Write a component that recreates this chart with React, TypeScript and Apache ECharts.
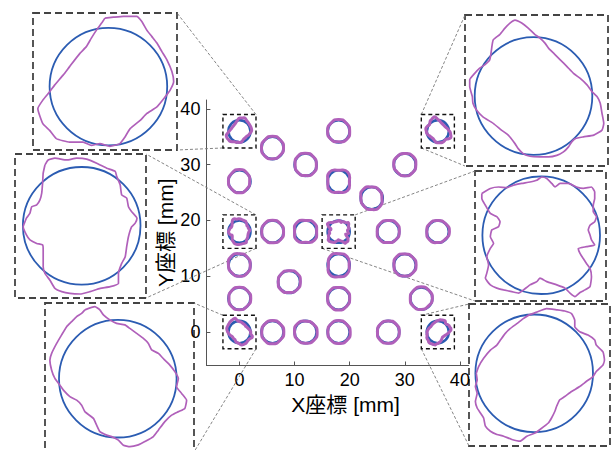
import React, { useEffect, useRef } from "react";
import * as echarts from "echarts";

// ---------- data ----------
const xTicks = [0, 10, 20, 30, 40];
const yTicks = [0, 10, 20, 30, 40];

// hole centres [mm]
const holeX = [0, 18, 36, 6, 12, 30, 0, 18, 24, 0, 6, 12, 18, 27, 36, 0, 18, 30, 9, 0, 18, 33, 0, 6, 12, 18, 27, 36];
const holeY = [36, 36, 36, 33, 30, 30, 27, 27, 24, 18, 18, 18, 18, 18, 18, 12, 12, 12, 9, 6, 6, 6, 0, 0, 0, 0, 0, 0];
const holeRadius = 2; // design radius [mm]

// holes that are magnified in the insets (TL, TR, LM, RM, BL, BR)
const zoomedHoles = [0, 2, 9, 12, 22, 27];
const zoomHalf = 3; // half size of the small dashed boxes [mm]

// measured radius [mm] of non-magnified holes at E, NE, N, NW, W, SW, S, SE
const measuredRadii: (number[] | null)[] = [
  null,
  [2.0, 2.0, 2.1, 2.0, 2.0, 2.0, 1.9, 2.05],
  null,
  [2.0, 2.0, 2.1, 2.0, 2.0, 2.0, 1.95, 1.9],
  [1.95, 2.0, 2.05, 2.05, 1.9, 1.95, 1.95, 2.05],
  [2.0, 2.1, 2.0, 2.0, 2.0, 1.9, 2.0, 2.0],
  [1.85, 2.0, 2.15, 2.0, 2.0, 1.95, 2.05, 1.9],
  [1.95, 2.35, 2.0, 2.35, 1.95, 2.3, 1.95, 2.3],
  [1.85, 1.95, 2.0, 2.2, 1.95, 2.0, 2.05, 2.1],
  null,
  [2.0, 2.0, 2.05, 2.0, 1.95, 2.0, 2.0, 2.05],
  [2.0, 2.2, 2.0, 2.25, 2.0, 2.2, 1.9, 2.2],
  null,
  [2.0, 2.1, 2.0, 2.05, 2.0, 2.1, 1.95, 2.0],
  [2.1, 2.0, 2.0, 2.05, 2.0, 2.1, 1.95, 1.9],
  [1.95, 2.0, 2.05, 2.15, 2.0, 1.95, 2.0, 2.0],
  [1.9, 2.15, 2.05, 2.2, 1.85, 2.3, 2.1, 2.2],
  [2.05, 2.0, 2.0, 2.1, 1.95, 2.05, 1.95, 2.0],
  [2.05, 2.1, 2.0, 2.0, 1.95, 2.05, 1.9, 2.0],
  [2.05, 2.0, 2.05, 2.0, 1.9, 2.0, 2.0, 1.95],
  [2.0, 2.05, 2.0, 2.1, 2.0, 2.0, 2.05, 2.0],
  [2.0, 2.0, 2.1, 2.0, 2.0, 2.0, 1.95, 1.85],
  null,
  [2.05, 2.0, 2.05, 2.0, 1.95, 2.05, 2.1, 2.0],
  [2.1, 2.0, 1.95, 2.1, 2.0, 2.0, 2.0, 2.1],
  [2.1, 2.0, 2.05, 2.0, 1.95, 2.0, 2.05, 2.1],
  [2.0, 2.0, 2.0, 2.0, 1.95, 2.05, 2.0, 2.0],
  null,
];

// measured contours of magnified holes, relative to hole centre [mm]
const contourTL = [
  [-0.12, 2.33], [0.17, 2.36], [0.51, 2.39], [0.96, 2.39], [1.13, 2.22], [1.3, 1.93], [1.48, 1.7], [1.65, 1.48],
  [1.82, 1.19], [1.99, 0.91], [2.16, 0.51], [2.22, 0.17], [2.1, -0.12], [1.93, -0.35], [1.65, -0.69], [1.3, -0.92],
  [1.08, -1.15], [0.74, -1.43], [0.56, -1.72], [0.39, -1.94], [0.05, -2.03], [-0.29, -1.94], [-0.58, -2.0],
  [-0.86, -1.89], [-1.32, -1.89], [-1.77, -1.77], [-2.0, -1.49], [-2.23, -1.26], [-2.4, -0.75], [-2.23, -0.46],
  [-2.0, -0.18], [-1.83, 0.05], [-1.54, 0.39], [-1.32, 0.68], [-0.97, 1.13], [-0.75, 1.36], [-0.58, 1.65],
  [-0.4, 1.93], [-0.23, 2.16],
];
const contourTR = [
  [-1.43, 1.57], [-1.37, 1.91], [-1.15, 2.09], [-0.97, 2.31], [-0.8, 2.48], [-0.63, 2.58], [-0.4, 2.48], [-0.18, 2.31],
  [0.05, 2.09], [0.22, 1.97], [0.39, 1.8], [0.51, 1.63], [0.74, 1.4], [0.91, 1.23], [1.14, 1.0], [1.36, 0.77],
  [1.59, 0.6], [1.82, 0.38], [1.99, 0.15], [2.16, -0.02], [2.27, -0.25], [2.33, -0.59], [2.39, -0.93], [2.33, -1.16],
  [2.05, -1.33], [1.7, -1.39], [1.42, -1.45], [1.3, -1.56], [1.19, -1.73], [1.02, -1.9], [0.79, -2.02], [0.51, -2.07],
  [0.22, -2.07], [-0.12, -2.05], [-0.35, -1.96], [-0.52, -1.79], [-0.63, -1.62], [-0.86, -1.33], [-1.09, -1.16],
  [-1.37, -0.93], [-1.72, -0.71], [-1.94, -0.48], [-2.06, -0.25], [-2.08, -0.02], [-2.17, 0.32], [-2.17, 0.55],
  [-2.0, 0.77], [-1.83, 0.95], [-1.66, 1.06], [-1.49, 1.23],
];
const contourLM = [
  [-1.25, 2.07], [-1.14, 2.24], [-0.91, 2.3], [-0.51, 2.24], [-0.17, 2.3], [0.17, 2.27], [0.51, 2.13], [0.85, 1.96],
  [1.14, 1.85], [1.19, 1.68], [1.31, 1.39], [1.36, 1.05], [1.53, 0.94], [1.59, 0.65], [1.7, 0.48], [1.88, 0.26],
  [1.82, 0.09], [1.7, -0.03], [1.59, -0.37], [1.53, -0.71], [1.48, -1.05], [1.36, -1.28], [1.25, -1.62],
  [1.25, -1.96], [0.97, -2.07], [0.63, -2.13], [0.28, -2.24], [-0.06, -2.32], [-0.4, -2.3], [-0.68, -2.24],
  [-0.91, -2.13], [-1.08, -1.85], [-1.25, -1.62], [-1.31, -1.39], [-1.31, -1.05], [-1.31, -0.82], [-1.33, -0.65],
  [-1.53, -0.6], [-1.76, -0.48], [-1.88, -0.31], [-1.99, -0.03], [-1.93, 0.14], [-1.88, 0.26], [-1.76, 0.43],
  [-1.7, 0.65], [-1.53, 0.71], [-1.42, 0.88], [-1.36, 1.11], [-1.33, 1.45], [-1.31, 1.79],
];
const contourRM = [
  [-2.02, 1.42], [-1.73, 1.59], [-1.45, 1.64], [-1.17, 1.62], [-0.94, 1.7], [-0.66, 1.76], [-0.38, 1.81],
  [-0.15, 1.87], [0.02, 1.98], [0.19, 1.93], [0.36, 1.76], [0.47, 1.64], [0.64, 1.76], [0.92, 1.76], [1.2, 1.64],
  [1.43, 1.59], [1.71, 1.64], [1.82, 1.47], [1.82, 1.25], [1.77, 1.02], [1.77, 0.8], [1.88, 0.63], [1.82, 0.46],
  [1.66, 0.34], [1.6, 0.18], [1.66, 0.01], [1.71, -0.16], [1.82, -0.33], [1.54, -0.39], [1.26, -0.45], [1.32, -0.62],
  [1.43, -0.79], [1.54, -0.96], [1.66, -1.13], [1.71, -1.41], [1.66, -1.75], [1.49, -1.86], [1.32, -1.95],
  [1.15, -2.09], [0.98, -1.97], [0.81, -1.8], [0.53, -1.69], [0.19, -1.58], [-0.04, -1.46], [-0.15, -1.58],
  [-0.38, -1.69], [-0.6, -1.86], [-0.77, -1.97], [-1.0, -1.92], [-1.28, -1.86], [-1.51, -1.8], [-1.73, -1.69],
  [-1.9, -1.46], [-1.85, -1.29], [-1.79, -1.01], [-1.85, -0.73], [-1.73, -0.45], [-1.62, -0.28], [-1.73, -0.05],
  [-1.68, 0.18], [-1.45, 0.29], [-1.4, 0.46], [-1.51, 0.63], [-1.73, 0.74], [-1.9, 1.02], [-2.02, 1.25],
];
const contourBL = [
  [-1.12, 2.34], [-0.78, 2.45], [-0.61, 2.34], [-0.49, 2.17], [-0.27, 2.0], [-0.04, 1.88], [0.24, 1.83],
  [0.41, 1.71], [0.64, 1.54], [0.87, 1.37], [1.04, 1.2], [1.15, 0.98], [1.38, 0.86], [1.6, 0.63], [1.77, 0.46],
  [1.94, 0.24], [2.06, 0.01], [2.0, -0.27], [2.17, -0.5], [2.34, -0.73], [2.28, -1.01], [2.06, -1.12], [1.83, -1.24],
  [1.6, -1.46], [1.38, -1.75], [1.21, -1.97], [0.92, -2.14], [0.7, -2.25], [0.41, -2.31], [0.19, -2.26],
  [0.02, -2.09], [-0.21, -1.97], [-0.38, -1.92], [-0.61, -1.8], [-0.72, -1.58], [-0.83, -1.35], [-1.12, -1.12],
  [-1.23, -0.9], [-1.4, -0.73], [-1.63, -0.61], [-1.85, -0.39], [-1.97, -0.22], [-2.14, 0.01], [-2.25, 0.29],
  [-2.31, 0.63], [-2.25, 0.86], [-2.08, 1.2], [-1.91, 1.49], [-1.74, 1.77], [-1.57, 1.94], [-1.4, 2.11], [-1.23, 2.22],
];
const contourBR = [
  [-1.97, 0.0], [-1.89, 0.23], [-1.72, 0.51], [-1.49, 0.79], [-1.27, 0.96], [-1.15, 1.13], [-0.99, 1.35],
  [-0.82, 1.52], [-0.59, 1.69], [-0.37, 1.86], [-0.2, 1.97], [0.08, 2.08], [0.42, 2.2], [0.76, 2.16], [1.04, 2.12],
  [1.27, 2.03], [1.38, 1.8], [1.38, 1.58], [1.55, 1.41], [1.83, 1.3], [2.06, 1.13], [2.11, 0.96], [2.34, 0.73],
  [2.39, 0.45], [2.34, 0.28], [2.11, 0.06], [2.0, -0.11], [1.77, -0.28], [1.55, -0.45], [1.27, -0.62], [1.04, -0.79],
  [0.87, -0.9], [0.76, -1.13], [0.7, -1.3], [0.59, -1.52], [0.48, -1.69], [0.2, -1.91], [0.03, -2.03], [-0.25, -2.14],
  [-0.48, -2.31], [-0.76, -2.25], [-1.04, -2.14], [-1.27, -2.08], [-1.49, -1.97], [-1.66, -1.8], [-1.72, -1.52],
  [-1.83, -1.35], [-1.94, -1.18], [-2.0, -0.96], [-1.94, -0.68], [-2.0, -0.45], [-1.94, -0.23],
];
const insetContours = [contourTL, contourTR, contourLM, contourRM, contourBL, contourBR];

// ---------- layout / style ----------
const FONT = '"Liberation Sans", Arial, "Noto Sans CJK JP", sans-serif';
const BLUE = "#2b5cb2";
const MAGENTA = "#b060ba";
const INSET_SCALE = 29.4; // px per mm inside insets
type Corner = "tl" | "tr" | "bl" | "br";
const INSETS: { box: number[]; c: number[]; links: [Corner, Corner][] }[] = [
  { box: [33, 13, 177, 150], c: [108.4, 86.6], links: [["tr", "tr"], ["bl", "br"]] },
  { box: [465, 15, 608, 166], c: [533.5, 96], links: [["tl", "tl"], ["bl", "bl"]] },
  { box: [15, 154, 146, 298], c: [81.7, 225.8], links: [["tr", "tr"], ["br", "br"]] },
  { box: [475, 171, 606, 301], c: [541.2, 235.2], links: [["tr", "tl"], ["bl", "bl"]] },
  { box: [45, 303, 194, 452], c: [117.8, 378.7], links: [["tl", "tr"], ["br", "br"]] },
  { box: [469, 304, 610, 446], c: [534.2, 373.3], links: [["tl", "tl"], ["bl", "bl"]] },
];

function holeContour(i: number): number[][] {
  const z = zoomedHoles.indexOf(i);
  if (z >= 0) return insetContours[z];
  const r = measuredRadii[i] as number[];
  return r.map((v, k) => [v * Math.cos((k * Math.PI) / 4), v * Math.sin((k * Math.PI) / 4)]);
}

function buildOption() {
  const grids: any[] = [
    { left: 206.4, top: 100, width: 262.3, height: 265.5, containLabel: false, outerBoundsMode: "none" },
  ];
  const xAxes: any[] = [
    {
      type: "value", gridIndex: 0, min: -6, max: 41.6,
      axisLine: { show: true, onZero: false, lineStyle: { color: "#555", width: 1 } },
      axisTick: { show: true, inside: true, length: 4, customValues: xTicks, lineStyle: { color: "#555" } },
      axisLabel: { customValues: xTicks, color: "#000", fontSize: 18, fontFamily: FONT, margin: 5 },
      splitLine: { show: false },
      name: "X座標 [mm]", nameLocation: "middle", nameGap: 28,
      nameTextStyle: { fontSize: 21, color: "#000", fontFamily: FONT, padding: [0, 0, 0, 16] },
    },
  ];
  const yAxes: any[] = [
    {
      type: "value", gridIndex: 0, min: -6, max: 41.6,
      axisLine: { show: true, onZero: false, lineStyle: { color: "#555", width: 1 } },
      axisTick: { show: true, inside: true, length: 4, customValues: yTicks, lineStyle: { color: "#555" } },
      axisLabel: { customValues: yTicks, color: "#000", fontSize: 18, fontFamily: FONT, margin: 6 },
      splitLine: { show: false },
      name: "Y座標 [mm]", nameLocation: "middle", nameGap: 29,
      nameTextStyle: { fontSize: 21, color: "#000", fontFamily: FONT },
    },
  ];
  const holeData = holeX.map((x, i) => [x, holeY[i], i]);
  const series: any[] = [
    {
      type: "custom", xAxisIndex: 0, yAxisIndex: 0, clip: false, silent: true, z: 2,
      data: holeData, encode: { x: 0, y: 1 },
      renderItem: (_p: any, api: any) => {
        const c = api.coord([api.value(0), api.value(1)]);
        const s = api.size([holeRadius, holeRadius]);
        return { type: "ellipse", shape: { cx: c[0], cy: c[1], rx: s[0], ry: s[1] }, style: { fill: "none", stroke: BLUE, lineWidth: 2.6 } };
      },
    },
    {
      type: "custom", xAxisIndex: 0, yAxisIndex: 0, clip: false, silent: true, z: 3,
      data: holeData, encode: { x: 0, y: 1 },
      renderItem: (_p: any, api: any) => {
        const cx = api.value(0), cy = api.value(1), i = api.value(2);
        const cont = holeContour(i);
        const pts = cont.map(([dx, dy]) => api.coord([cx + dx, cy + dy]));
        return {
          type: "polygon",
          shape: { points: pts, smooth: cont.length > 8 ? 0.2 : 0.6 },
          style: { fill: "none", stroke: MAGENTA, lineWidth: 3, lineJoin: "round" },
        };
      },
    },
    {
      type: "custom", xAxisIndex: 0, yAxisIndex: 0, clip: false, silent: true, z: 4,
      data: zoomedHoles.map((i) => [holeX[i], holeY[i]]), encode: { x: 0, y: 1 },
      renderItem: (_p: any, api: any) => {
        const tl = api.coord([api.value(0) - zoomHalf, api.value(1) + zoomHalf]);
        const s = api.size([2 * zoomHalf, 2 * zoomHalf]);
        return {
          type: "rect", shape: { x: tl[0], y: tl[1], width: s[0], height: s[1] },
          style: { fill: "none", stroke: "#111", lineWidth: 1.4, lineDash: [4, 3] },
        };
      },
    },
  ];

  INSETS.forEach((ins, k) => {
    const g = k + 1;
    const [l, t, r, b] = ins.box;
    grids.push({
      left: l, top: t, width: r - l, height: b - t, containLabel: false, outerBoundsMode: "none",
      show: true, backgroundColor: "rgba(0,0,0,0)", borderColor: "#444", borderWidth: 1.8, borderType: [7, 4],
    });
    xAxes.push({
      type: "value", gridIndex: g, show: false,
      min: (l - ins.c[0]) / INSET_SCALE, max: (r - ins.c[0]) / INSET_SCALE,
    });
    yAxes.push({
      type: "value", gridIndex: g, show: false,
      min: (ins.c[1] - b) / INSET_SCALE, max: (ins.c[1] - t) / INSET_SCALE,
    });
    series.push({
      type: "custom", xAxisIndex: g, yAxisIndex: g, clip: false, silent: true, z: 2,
      data: [[0, 0]], encode: { x: 0, y: 1 },
      renderItem: (_p: any, api: any) => {
        const c = api.coord([0, 0]);
        const s = api.size([holeRadius, holeRadius]);
        return { type: "ellipse", shape: { cx: c[0], cy: c[1], rx: s[0], ry: s[1] }, style: { fill: "none", stroke: BLUE, lineWidth: 1.8 } };
      },
    });
    const cont = insetContours[k];
    series.push({
      type: "line", xAxisIndex: g, yAxisIndex: g, clip: false, silent: true, z: 3,
      data: [...cont, cont[0]], symbol: "none", smooth: 0.15,
      lineStyle: { color: MAGENTA, width: 1.7 },
    });
  });

  return { animation: false, backgroundColor: "#fff", grid: grids, xAxis: xAxes, yAxis: yAxes, series };
}

export default function App() {
  const ref = useRef<HTMLDivElement>(null);
  useEffect(() => {
    if (!ref.current) return;
    const chart = echarts.init(ref.current, null, { renderer: "svg" });
    chart.setOption(buildOption());
    const lines: any[] = [];
    INSETS.forEach((ins, k) => {
      const h = zoomedHoles[k];
      const cx = holeX[h], cy = holeY[h];
      const smallCorner = (c: Corner) =>
        chart.convertToPixel({ gridIndex: 0 } as any, [cx + (c[1] === "r" ? zoomHalf : -zoomHalf), cy + (c[0] === "t" ? zoomHalf : -zoomHalf)]) as number[];
      const insetCorner = (c: Corner) => [c[1] === "r" ? ins.box[2] : ins.box[0], c[0] === "t" ? ins.box[1] : ins.box[3]];
      ins.links.forEach(([a, b]) => {
        const p = smallCorner(a);
        const q = insetCorner(b);
        lines.push({
          type: "line", silent: true, z: 1,
          shape: { x1: p[0], y1: p[1], x2: q[0], y2: q[1] },
          style: { stroke: "#777", lineWidth: 0.9, lineDash: [3, 2] },
        });
      });
    });
    chart.setOption({ graphic: lines });
    return () => chart.dispose();
  }, []);
  return <div ref={ref} style={{ position: "absolute", left: 0, top: 0, width: 612, height: 450 }} />;
}
